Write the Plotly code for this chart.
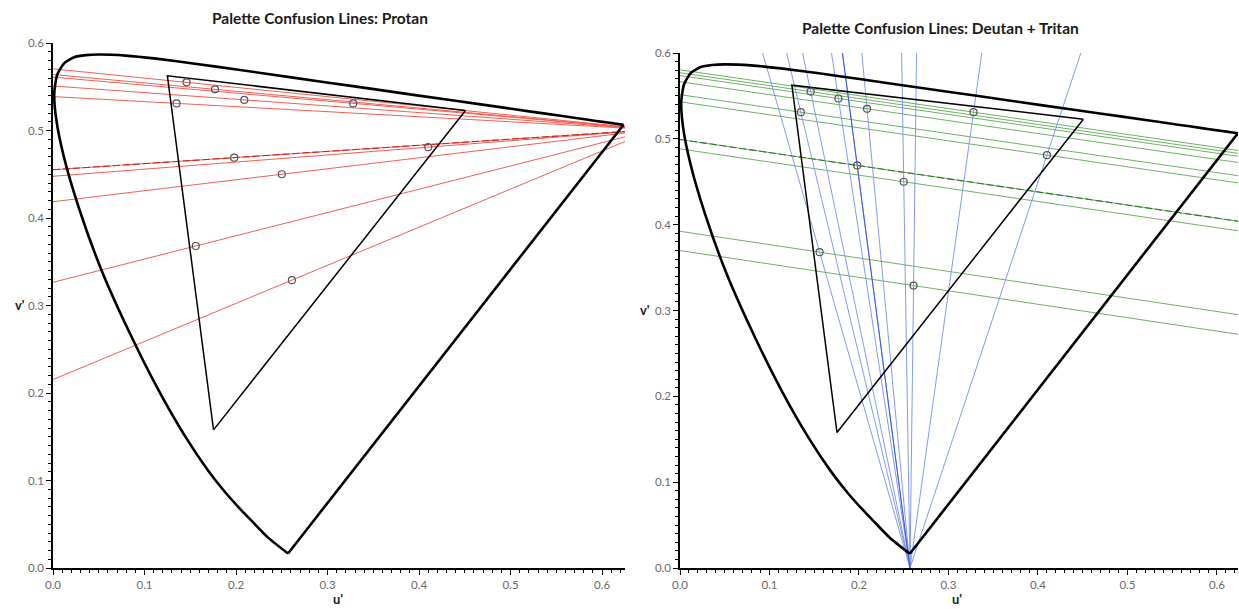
import plotly.graph_objects as go

# ---------------- data ----------------
# CIE 1976 spectral locus (u', v'), 380 nm -> 700 nm
locus_u = [0.2568, 0.2347, 0.2161, 0.2033, 0.1877, 0.1690, 0.1441, 0.1147,
           0.0828, 0.0521, 0.0282, 0.0119, 0.0035, 0.0014, 0.0046, 0.0123, 0.0231,
           0.0360, 0.0501, 0.0792, 0.1127, 0.1531, 0.2026, 0.2623, 0.3315, 0.4035,
           0.4692, 0.5203, 0.5565, 0.5830, 0.6005, 0.6109, 0.6199, 0.6234]
locus_v = [0.0166, 0.0350, 0.0549, 0.0688, 0.0871, 0.1120, 0.1510, 0.2044,
           0.2708, 0.3427, 0.4117, 0.4698, 0.5131, 0.5432, 0.5638, 0.5770, 0.5837,
           0.5861, 0.5868, 0.5856, 0.5821, 0.5766, 0.5694, 0.5604, 0.5501, 0.5393,
           0.5296, 0.5219, 0.5165, 0.5125, 0.5099, 0.5084, 0.5070, 0.5065]

# display gamut triangle (R, G, B, R)
gamut_u = [0.4507, 0.1250, 0.1754, 0.4507]
gamut_v = [0.5229, 0.5625, 0.1579, 0.5229]

# palette colours
pal_u = [0.146, 0.177, 0.209, 0.135, 0.328, 0.198, 0.250, 0.410, 0.156, 0.261]
pal_v = [0.555, 0.547, 0.535, 0.531, 0.531, 0.469, 0.450, 0.481, 0.368, 0.329]
highlight_index = 5  # the colour drawn twice (darker dashed line)

# copunctal points
protan_u, protan_v = 0.656, 0.501
deutan_u, deutan_v = -36.0, 6.0
tritan_u, tritan_v = 0.257, 0.0

X_MAX_L = 0.625
X_MAX_R = 0.6235
Y_MAX = 0.6

RED, RED_D = "rgb(242,95,85)", "rgb(200,35,30)"
GREEN, GREEN_D = "rgb(110,178,100)", "rgb(40,120,40)"
BLUE, BLUE_D = "rgb(115,145,232)", "rgb(60,90,215)"

fig = go.Figure()


def add_line(xs, ys, color, xa, ya, dash="solid", width=1.0):
    fig.add_trace(go.Scatter(x=xs, y=ys, mode="lines", xaxis=xa, yaxis=ya,
                             line=dict(color=color, width=width, dash=dash),
                             showlegend=False, hoverinfo="skip"))


def y_at(x0, y0, x1, y1, x):
    return y0 + (y1 - y0) * (x - x0) / (x1 - x0)


def x_at(x0, y0, x1, y1, y):
    return x0 + (x1 - x0) * (y - y0) / (y1 - y0)


# ---- left panel: protan ----
for u, v in zip(pal_u, pal_v):
    add_line([0.0, protan_u], [y_at(u, v, protan_u, protan_v, 0.0), protan_v], RED, "x", "y")
u, v = pal_u[highlight_index], pal_v[highlight_index]
add_line([0.0, protan_u], [y_at(u, v, protan_u, protan_v, 0.0), protan_v],
         RED_D, "x", "y", dash="7px,3px", width=1.1)

# ---- right panel: deutan (green) ----
xs_d = [0.0, X_MAX_R + 0.05]
for u, v in zip(pal_u, pal_v):
    add_line(xs_d, [y_at(u, v, deutan_u, deutan_v, x) for x in xs_d], GREEN, "x2", "y2")
u, v = pal_u[highlight_index], pal_v[highlight_index]
add_line(xs_d, [y_at(u, v, deutan_u, deutan_v, x) for x in xs_d],
         GREEN_D, "x2", "y2", dash="7px,3px", width=1.1)

# ---- right panel: tritan (blue) ----
for u, v in zip(pal_u, pal_v):
    add_line([tritan_u, x_at(tritan_u, tritan_v, u, v, Y_MAX)], [tritan_v, Y_MAX],
             BLUE, "x2", "y2", width=0.9)
u, v = pal_u[highlight_index], pal_v[highlight_index]
add_line([tritan_u, x_at(tritan_u, tritan_v, u, v, Y_MAX)], [tritan_v, Y_MAX],
         BLUE_D, "x2", "y2", width=1.0)

# locus, gamut and points on both panels
for xa, ya in (("x", "y"), ("x2", "y2")):
    fig.add_trace(go.Scatter(x=locus_u, y=locus_v, mode="lines", xaxis=xa, yaxis=ya,
                             line=dict(color="black", width=2.6, shape="spline", smoothing=0.6),
                             showlegend=False, hoverinfo="skip"))
    fig.add_trace(go.Scatter(x=[locus_u[-1], locus_u[0]], y=[locus_v[-1], locus_v[0]],
                             mode="lines", xaxis=xa, yaxis=ya,
                             line=dict(color="black", width=2.6),
                             showlegend=False, hoverinfo="skip"))
    fig.add_trace(go.Scatter(x=gamut_u, y=gamut_v, mode="lines", xaxis=xa, yaxis=ya,
                             line=dict(color="black", width=1.5),
                             showlegend=False, hoverinfo="skip"))
    fig.add_trace(go.Scatter(x=pal_u, y=pal_v, mode="markers", xaxis=xa, yaxis=ya,
                             marker=dict(symbol="circle-open", size=7,
                                         color="#555555", line=dict(width=1.2)),
                             showlegend=False))

FONT = "Lato, Open Sans, sans-serif"
W, H = 1239, 609

axis_common = dict(
    showgrid=False, zeroline=False, showline=True, linecolor="black", linewidth=1.5,
    ticks="outside", ticklen=5, tickwidth=1.3, tickcolor="black",
    tickfont=dict(family=FONT, size=11.5, color="#6a6a6a"),
    dtick=0.1, tick0=0, tickformat=".1f",
    minor=dict(dtick=0.01, ticks="outside", ticklen=3, tickcolor="black", tickwidth=1),
    automargin=False, fixedrange=True,
)

fig.update_layout(
    width=W, height=H,
    margin=dict(l=0, r=0, t=0, b=0),
    paper_bgcolor="white", plot_bgcolor="white",
    xaxis=dict(axis_common, domain=[53 / W, 625 / W], range=[0, X_MAX_L], anchor="y"),
    yaxis=dict(axis_common, domain=[1 - 568 / H, 1 - 43 / H], range=[0, Y_MAX], anchor="x"),
    xaxis2=dict(axis_common, domain=[680 / W, 1238 / W], range=[0, X_MAX_R], anchor="y2"),
    yaxis2=dict(axis_common, domain=[1 - 568 / H, 1 - 53 / H], range=[0, Y_MAX], anchor="x2"),
)

ann = [
    dict(text="<b>Palette Confusion Lines: Protan</b>", x=320 / W, y=1 - 18 / H, size=15.5),
    dict(text="<b>Palette Confusion Lines: Deutan + Tritan</b>", x=940 / W, y=1 - 28 / H, size=15.5),
    dict(text="<b>v'</b>", x=20 / W, y=1 - 305 / H, size=13),
    dict(text="<b>u'</b>", x=338 / W, y=1 - 599 / H, size=13),
    dict(text="<b>v'</b>", x=645 / W, y=1 - 310 / H, size=13),
    dict(text="<b>u'</b>", x=957 / W, y=1 - 599 / H, size=13),
]
for a in ann:
    fig.add_annotation(text=a["text"], x=a["x"], y=a["y"], xref="paper", yref="paper",
                       xanchor="center", yanchor="middle", showarrow=False,
                       font=dict(family=FONT, size=a["size"], color="#1a1a1a"))

fig.write_html("out.html")
